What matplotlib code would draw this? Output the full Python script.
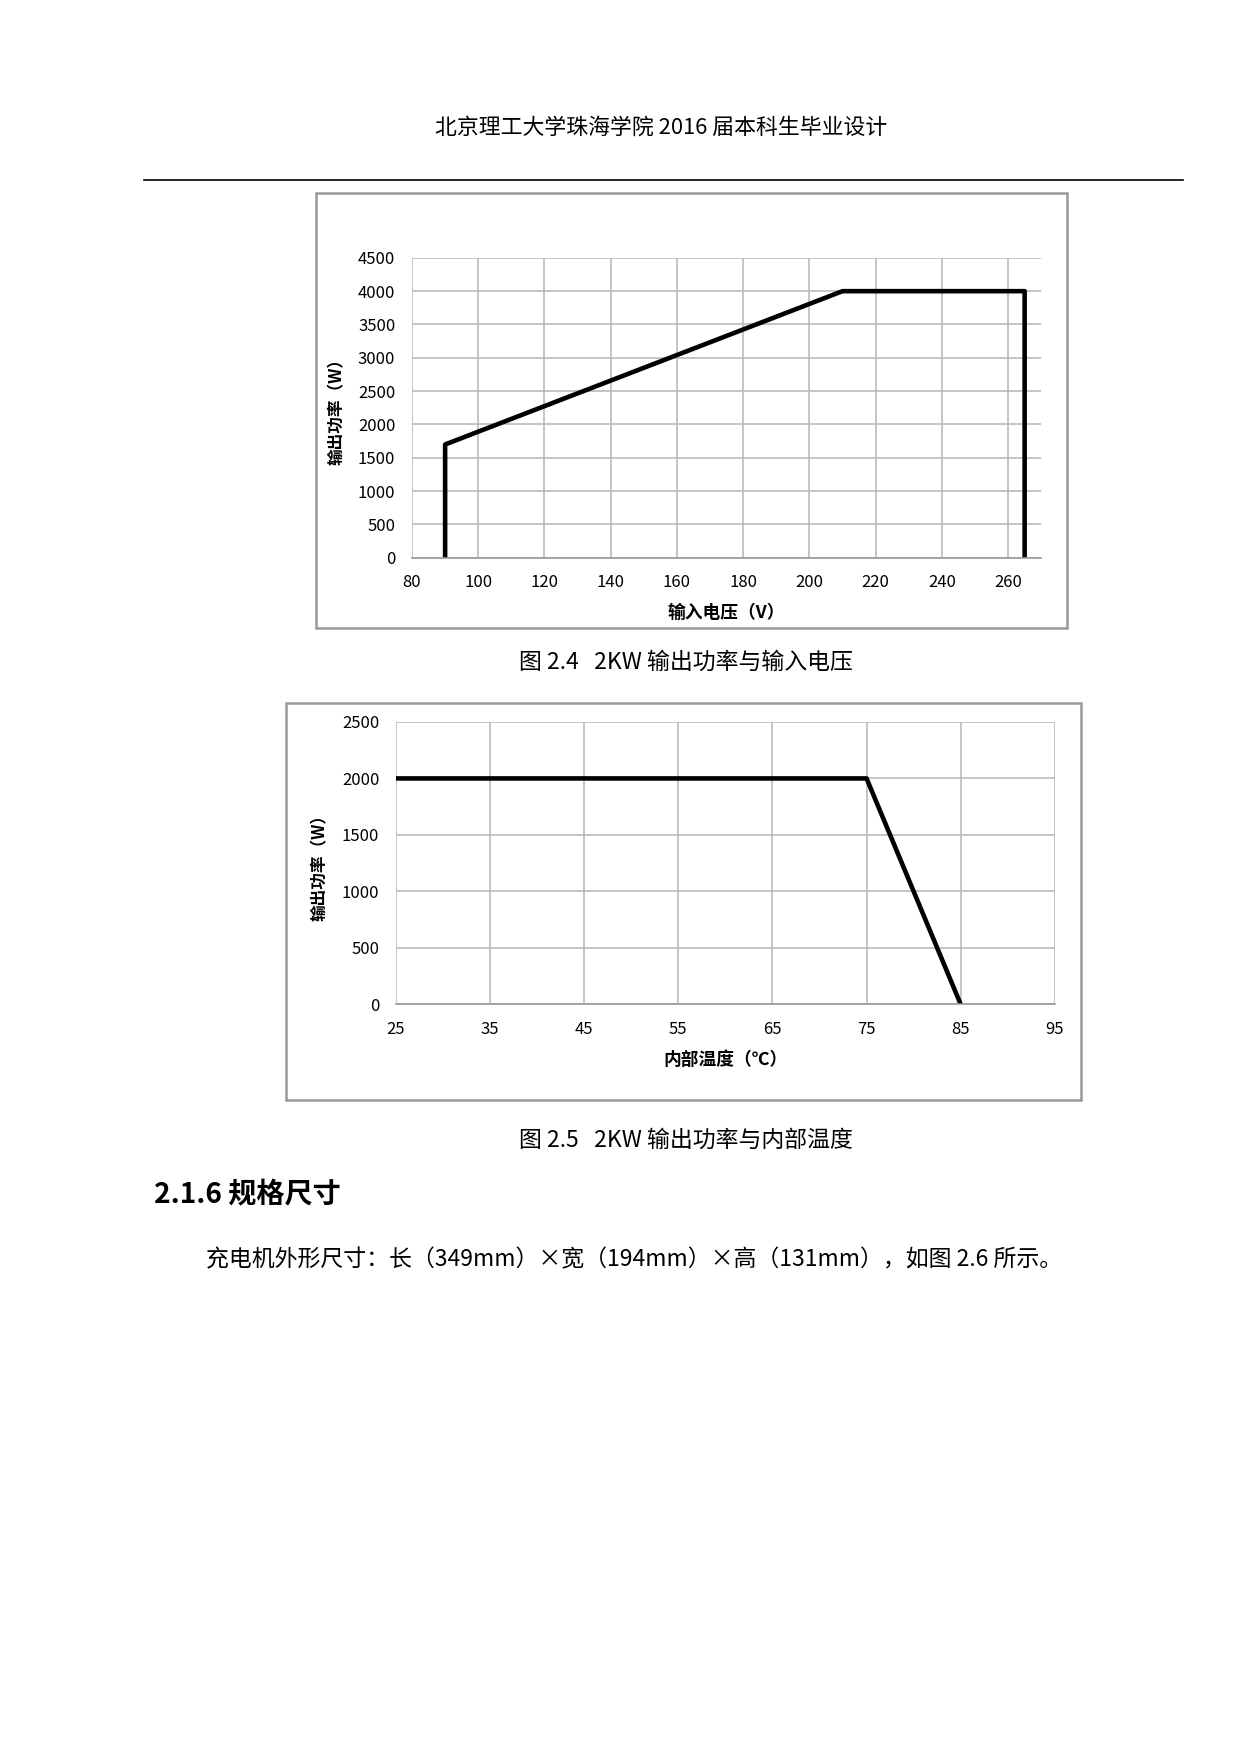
import matplotlib
matplotlib.use("Agg")
import matplotlib.pyplot as plt
from matplotlib.patches import Rectangle
from matplotlib.lines import Line2D

plt.rcParams['font.family'] = ['Noto Sans CJK SC', 'DejaVu Sans']

volt_x = [90, 90, 210, 265, 265]
volt_y = [0, 1700, 4000, 4000, 0]
volt_ticks = [80, 100, 120, 140, 160, 180, 200, 220, 240, 260]
volt_yticks = [0, 500, 1000, 1500, 2000, 2500, 3000, 3500, 4000, 4500]

temp_x = [25, 75, 85]
temp_y = [2000, 2000, 0]
temp_ticks = [25, 35, 45, 55, 65, 75, 85, 95]
temp_yticks = [0, 500, 1000, 1500, 2000, 2500]

fig = plt.figure(figsize=(1241/150, 1754/150), dpi=150)

def frame(l, b, r, t):
    fig.add_artist(Rectangle((l, b), r-l, t-b, transform=fig.transFigure,
                             fill=False, edgecolor='#999999', lw=1.2))

def style(ax, ylabel, xlabel):
    ax.grid(True, color='#bbbbbb', lw=0.8)
    for s in ['top', 'right', 'left']:
        ax.spines[s].set_visible(False)
    ax.spines['bottom'].set_color('#999999')
    ax.tick_params(length=0, labelsize=8, pad=8)
    ax.set_ylabel(ylabel, fontsize=8, fontweight='bold', labelpad=6)
    ax.set_xlabel(xlabel, fontsize=8.5, fontweight='bold', labelpad=6)
    ax.set_axisbelow(True)

dx, dy = -0.004, 0.003

# header
fig.text(0.533, 0.924, '北京理工大学珠海学院 2016 届本科生毕业设计', ha='center', fontsize=10.5)
fig.add_artist(Line2D([0.116, 0.953], [0.8975, 0.8975], transform=fig.transFigure, color='black', lw=0.8))

# chart 1
frame(0.259+dx, 0.639+dy, 0.864+dx, 0.887+dy)
ax1 = fig.add_axes([0.336+dx, 0.679+dy, 0.507, 0.171])
ax1.plot(volt_x, volt_y, color='black', lw=2.2)
ax1.set_xlim(80, 270)
ax1.set_ylim(0, 4500)
ax1.set_xticks(volt_ticks)
ax1.set_yticks(volt_yticks)
style(ax1, '输出功率（W）', '输入电压（V）')
fig.text(0.553, 0.619, '图 2.4   2KW 输出功率与输入电压', ha='center', fontsize=11)

# chart 2
frame(0.2345+dx, 0.370+dy, 0.875+dx, 0.596+dy)
ax2 = fig.add_axes([0.323+dx, 0.4244+dy, 0.531, 0.161])
ax2.plot(temp_x, temp_y, color='black', lw=2.2)
ax2.set_xlim(25, 95)
ax2.set_ylim(0, 2500)
ax2.set_xticks(temp_ticks)
ax2.set_yticks(temp_yticks)
style(ax2, '输出功率（W）', '内部温度（℃）')
fig.text(0.553, 0.346, '图 2.5   2KW 输出功率与内部温度', ha='center', fontsize=11)

fig.text(0.124, 0.314, '2.1.6 规格尺寸', fontsize=13.5, fontweight='bold')
fig.text(0.166, 0.278, '充电机外形尺寸：长（349mm）×宽（194mm）×高（131mm），如图 2.6 所示。', fontsize=11)

fig.savefig('out.png', dpi=150)
